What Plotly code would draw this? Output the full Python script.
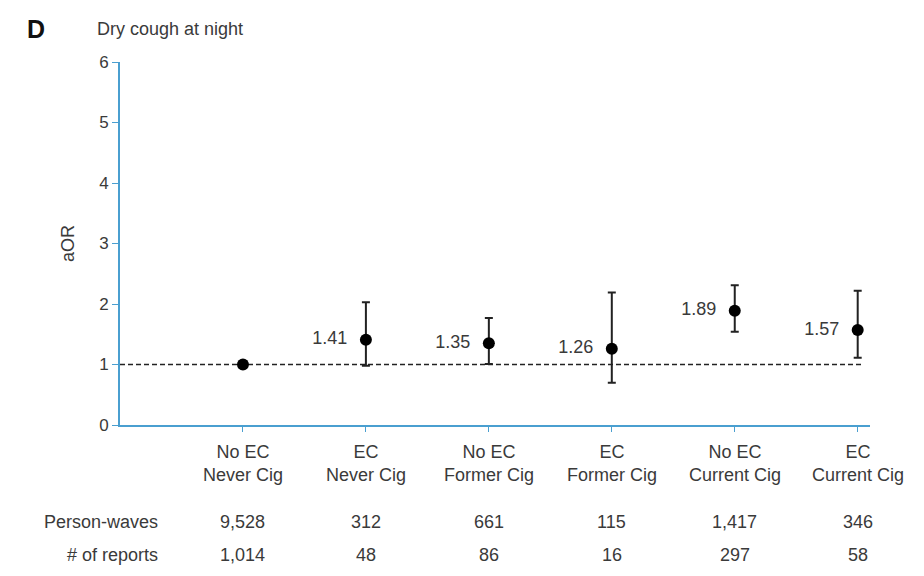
import plotly.graph_objects as go

categories = ["No EC<br>Never Cig", "EC<br>Never Cig", "No EC<br>Former Cig",
              "EC<br>Former Cig", "No EC<br>Current Cig", "EC<br>Current Cig"]
aor = [1.00, 1.41, 1.35, 1.26, 1.89, 1.57]
ci_low = [1.00, 0.98, 1.01, 0.70, 1.54, 1.11]
ci_high = [1.00, 2.03, 1.77, 2.19, 2.31, 2.22]
value_labels = ["", "1.41", "1.35", "1.26", "1.89", "1.57"]
person_waves = ["9,528", "312", "661", "115", "1,417", "346"]
n_reports = ["1,014", "48", "86", "16", "297", "58"]
row_labels = ["Person-waves", "# of reports"]
y_ticks = [0, 1, 2, 3, 4, 5, 6]

xs = list(range(len(categories)))
FONT = "Liberation Sans, Arial, sans-serif"
TXT = "#3a3a3a"
AXIS = "#4a9fd0"

fig = go.Figure()

# reference line at aOR = 1
fig.add_trace(go.Scatter(
    x=[-1.0, 5.05], y=[1, 1], mode="lines",
    line=dict(color="#222222", width=1.5, dash="5px,3px"),
    hoverinfo="skip", showlegend=False))

err_plus = [h - v for h, v in zip(ci_high, aor)]
err_minus = [v - l for v, l in zip(aor, ci_low)]

fig.add_trace(go.Scatter(
    x=xs, y=aor, mode="markers+text",
    marker=dict(color="black", size=12),
    error_y=dict(type="data", symmetric=False, array=err_plus, arrayminus=err_minus,
                 color="#222222", thickness=2, width=4),
    text=[t + "  " if t else "" for t in value_labels],
    textposition="middle left",
    textfont=dict(family=FONT, size=18, color=TXT),
    showlegend=False))

annotations = []
# category labels
for x, c in zip(xs, categories):
    annotations.append(dict(x=x, y=-0.04, xref="x", yref="paper", text=c,
                            showarrow=False, yanchor="top",
                            font=dict(family=FONT, size=18, color=TXT)))
# table rows
rows = [person_waves, n_reports]
row_y = [-0.267, -0.358]
for lab, vals, yy in zip(row_labels, rows, row_y):
    annotations.append(dict(x=0.053, y=yy, xref="paper", yref="paper", text=lab,
                            showarrow=False, xanchor="right", yanchor="middle",
                            font=dict(family=FONT, size=18, color=TXT)))
    for x, v in zip(xs, vals):
        annotations.append(dict(x=x, y=yy, xref="x", yref="paper", text=v,
                                showarrow=False, yanchor="middle",
                                font=dict(family=FONT, size=18, color=TXT)))
# panel letter and title
annotations.append(dict(x=-0.127, y=1.092, xref="paper", yref="paper", text="<b>D</b>",
                        showarrow=False, xanchor="left", yanchor="middle",
                        font=dict(family=FONT, size=25, color="#111111")))
annotations.append(dict(x=-0.034, y=1.092, xref="paper", yref="paper",
                        text="Dry cough at night", showarrow=False,
                        xanchor="left", yanchor="middle",
                        font=dict(family=FONT, size=18, color=TXT)))

fig.update_layout(
    width=916, height=568,
    margin=dict(l=112, r=54, t=54, b=151),
    paper_bgcolor="white", plot_bgcolor="white",
    xaxis=dict(range=[-1.0, 5.1], tickvals=xs, ticktext=[""] * len(xs),
               showgrid=False, zeroline=False, showline=True, linecolor=AXIS,
               linewidth=2, ticks="outside", ticklen=5, tickcolor=AXIS,
               fixedrange=True),
    yaxis=dict(range=[0, 6], tickvals=y_ticks, showgrid=False, zeroline=False,
               showline=True, linecolor=AXIS, linewidth=2, ticks="outside",
               ticklen=6, tickcolor=AXIS,
               tickfont=dict(family=FONT, size=17, color=TXT),
               title=dict(text="aOR", font=dict(family=FONT, size=18, color=TXT),
                          standoff=20)),
    annotations=annotations,
)

fig.write_html("out.html")
